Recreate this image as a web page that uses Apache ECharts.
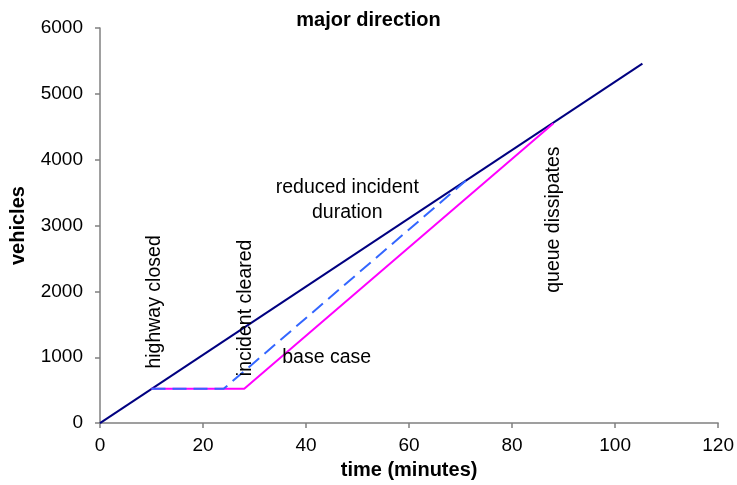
<!DOCTYPE html>
<html>
<head>
<meta charset="utf-8">
<script src="https://cdn.jsdelivr.net/npm/echarts@6/dist/echarts.min.js"></script>
<style>
html,body{margin:0;padding:0;background:#fff;}
#c{width:737px;height:485px;}
</style>
</head>
<body>
<div id="c"></div>
<script>
// Data (time in minutes, cumulative vehicles)
const arrivalsTime = [0, 105.3];
const arrivalsVeh = [0, 5460];
const baseTime = [10, 28, 88];
const baseVeh = [520, 520, 4550];
const reducedTime = [10, 24, 71];
const reducedVeh = [520, 520, 3680];
const xTicks = [0, 20, 40, 60, 80, 100, 120];
const yTicks = [0, 1000, 2000, 3000, 4000, 5000, 6000];
// annotations: [text, time, vehicles, rotated]
const annotations = [
  ['highway closed', 10.6, 1840, true],
  ['incident cleared', 28.3, 1750, true],
  ['queue dissipates', 88, 3090, true],
  ['reduced incident\nduration', 48, 3380, false],
  ['base case', 44, 1000, false]
];

const zip = (a, b) => a.map((v, i) => [v, b[i]]);
const font = 'Liberation Sans, Arial, sans-serif';
const chart = echarts.init(document.getElementById('c'));
const lineCol = '#808080';
chart.setOption({
  animation: false,
  title: {
    text: 'major direction', left: 'center', top: 5,
    textStyle: {fontSize: 20, fontWeight: 'bold', fontFamily: font, color: '#000'}
  },
  grid: {left: 100, right: 16, top: 28, bottom: 57},
  xAxis: {
    type: 'value', min: xTicks[0], max: xTicks[xTicks.length - 1], interval: 20,
    name: 'time (minutes)', nameLocation: 'middle', nameGap: 31,
    nameTextStyle: {fontSize: 20, fontWeight: 'bold', fontFamily: font, color: '#000'},
    axisLine: {show: true, lineStyle: {color: lineCol, width: 1.5}},
    axisTick: {show: true, length: 5, lineStyle: {color: lineCol, width: 1.5}},
    splitLine: {show: false},
    axisLabel: {color: '#000', fontSize: 19, fontFamily: font, margin: 13}
  },
  yAxis: {
    type: 'value', min: yTicks[0], max: yTicks[yTicks.length - 1], interval: 1000,
    name: 'vehicles', nameLocation: 'middle', nameGap: 72,
    nameTextStyle: {fontSize: 20, fontWeight: 'bold', fontFamily: font, color: '#000'},
    axisLine: {show: true, lineStyle: {color: lineCol, width: 1.5}},
    axisTick: {show: true, length: 5, lineStyle: {color: lineCol, width: 1.5}},
    splitLine: {show: false},
    axisLabel: {color: '#000', fontSize: 19, fontFamily: font, margin: 17,
                formatter: v => String(v)}
  },
  series: [
    {type: 'line', data: zip(arrivalsTime, arrivalsVeh), showSymbol: false,
     lineStyle: {color: '#000080', width: 2}},
    {type: 'line', data: zip(baseTime, baseVeh), showSymbol: false,
     lineStyle: {color: '#FF00FF', width: 2}},
    {type: 'line', data: zip(reducedTime, reducedVeh), showSymbol: false,
     lineStyle: {color: '#3366FF', width: 2, type: [14, 7]}}
  ]
});
const g = annotations.map(([text, t, v, rot]) => {
  const p = chart.convertToPixel({gridIndex: 0}, [t, v]);
  return {
    type: 'text', x: p[0], y: p[1], rotation: rot ? Math.PI / 2 : 0,
    style: {text: text, fontSize: 19.5, fontFamily: font, fill: '#000',
            align: 'center', verticalAlign: 'middle', lineHeight: 25},
    z: 10
  };
});
chart.setOption({graphic: g});
</script>
</body>
</html>
